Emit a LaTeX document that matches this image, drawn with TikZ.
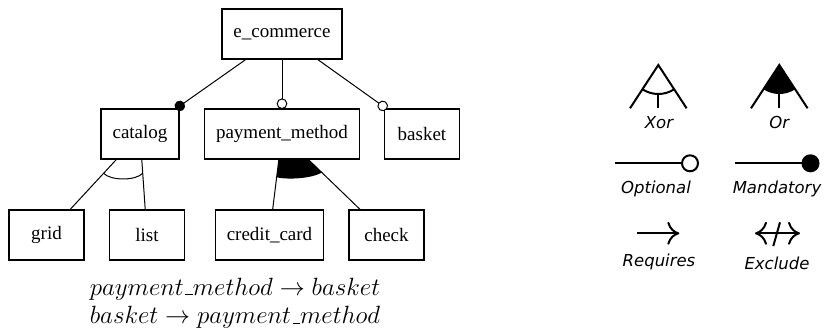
\documentclass[tikz,border=0pt]{standalone}
\usepackage{amsmath}
\usepackage{fontspec}
\usepackage{tikz}
\usetikzlibrary{arrows.meta}
\newfontfamily\graphfont{Liberation Serif}
\newfontfamily\legendfont{DejaVu Sans}
\newcommand{\lowbar}{\kern.06em\vbox{\hrule width.3em}}
\tikzset{
    featurenode/.style = {
        align=center,
        rectangle,
        draw=black,
        line width=0.6pt,
        font=\graphfont\fontsize{9.5}{11}\selectfont,
        minimum width=37.5pt,
        minimum height=25pt,
        inner xsep=5.75pt,
        outer sep=0pt
    },
    featureedge/.style = {
        draw=black,
        line width=0.5pt
    },
    mandatoryedge/.style = {
        featureedge,
        -{Circle[length=5.3pt]}
    },
    optionaledge/.style = {
        featureedge,
        -{Circle[open,fill=white,length=5.3pt]}
    },
    constraintnode/.style = {
        align=center,
        scale=1.04,
        font=\fontsize{12}{13.65}\selectfont
    },
    legendline/.style = {
        line width=1pt
    },
    legendlabel/.style = {
        font=\legendfont\itshape\fontsize{8.25}{10}\selectfont,
        inner sep=0pt
    }
}
\begin{document}
\begin{tikzpicture}[x=0.5pt,y=-0.5pt]
    \useasboundingbox (0,0) rectangle (824,332);
    % features
    \node [featurenode] (ecommerce) at (282,34) {e\_commerce};
    \node [featurenode] (catalog) at (140,134) {catalog};
    \node [featurenode] (paymentmethod) at (282,134) {payment\_method};
    \node [featurenode] (basket) at (422,134) {basket};
    \node [featurenode] (grid) at (46.5,235) {grid};
    \node [featurenode] (list) at (147,235) {list};
    \node [featurenode] (creditcard) at (269.5,235) {credit\_card};
    \node [featurenode] (check) at (386.5,235) {check};
    % tree edges
    \draw [mandatoryedge] (ecommerce) -- (catalog);
    \draw [optionaledge] (ecommerce) -- (paymentmethod);
    \draw [optionaledge] (ecommerce) -- (basket);
    \draw [featureedge] (catalog) -- (grid) coordinate[pos=0.28] (xorleft);
    \draw [featureedge] (catalog) -- (list) coordinate[pos=0.28] (xorright);
    \draw [featureedge] (paymentmethod) -- (creditcard)
        coordinate[pos=0] (ortopleft) coordinate[pos=0.36] (orbottomleft);
    \draw [featureedge] (paymentmethod) -- (check)
        coordinate[pos=0] (ortopright) coordinate[pos=0.265] (orbottomright);
    % groups
    \draw [featureedge] (xorleft) .. controls +(7,7.6) and +(-7,7.6) .. (xorright);
    \fill (ortopleft) -- (orbottomleft) .. controls +(12,2.5) and +(-10,6) .. (orbottomright)
        -- (ortopright) -- cycle;
    % cross-tree constraints
    \node [constraintnode] (constraints) at (235,303)
        {$payment\lowbar method \rightarrow basket$\\$basket \rightarrow payment\lowbar method$};
    % legend
    \coordinate (xorapex) at (658.3,65);
    \draw [legendline] (xorapex) ++(-28.3,43.3) -- (xorapex) -- ++(28.3,43.3);
    \draw [legendline] (xorapex) ++(123.2:29) arc[start angle=123.2, end angle=56.8, radius=29];
    \draw [legendline] (xorapex) ++(0,29) -- ++(0,14.3);
    \node [legendlabel] (xorlabel) at (659,122.3) {Xor};
    \coordinate (orapex) at (779.3,65);
    \fill (orapex) -- ++(123.2:29) arc[start angle=123.2, end angle=56.8, radius=29] -- cycle;
    \draw [legendline] (orapex) ++(-28.3,43.3) -- (orapex) -- ++(28.3,43.3);
    \draw [legendline] (orapex) ++(0,29) -- ++(0,14.3);
    \node [legendlabel] (orlabel) at (779.3,122.3) {Or};
    \coordinate (optstart) at (615,163.3);
    \coordinate (optend) at (699,163.3);
    \draw [legendline, -{Circle[open,fill=white,length=9pt]}] (optstart) -- (optend);
    \node [legendlabel] (optlabel) at (656,189) {Optional};
    \coordinate (manstart) at (735,163.3);
    \coordinate (manend) at (819.5,163.3);
    \draw [legendline, -{Circle[length=9pt]}] (manstart) -- (manend);
    \node [legendlabel] (manlabel) at (777,189) {Mandatory};
    \coordinate (reqstart) at (637.3,233.3);
    \coordinate (reqend) at (679.3,233.3);
    \draw [legendline, -{To[length=6pt,width=11.5pt]}] (reqstart) -- (reqend);
    \node [legendlabel] (reqlabel) at (659,262) {Requires};
    \coordinate (exclstart) at (755,233.3);
    \coordinate (exclend) at (800,233.3);
    \draw [legendline, {To[length=6pt,width=11.5pt]}-{To[length=6pt,width=11.5pt]}] (exclstart) -- (exclend);
    \coordinate (excllow) at (773.3,246);
    \coordinate (exclhigh) at (780,222.3);
    \draw [legendline] (excllow) -- (exclhigh);
    \node [legendlabel] (excllabel) at (777,263) {Exclude};
\end{tikzpicture}
\end{document}
